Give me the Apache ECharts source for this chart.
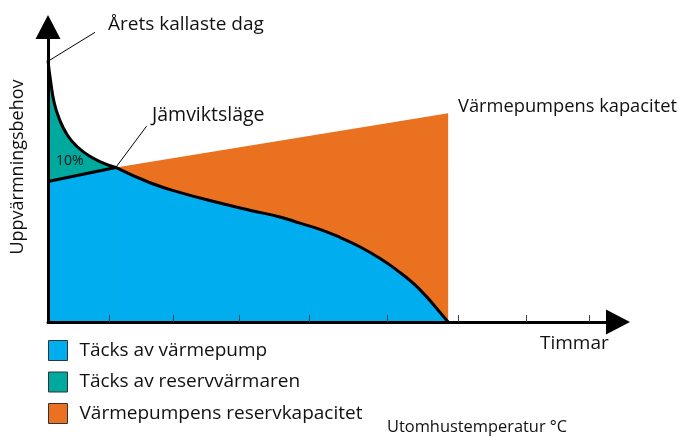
<!DOCTYPE html>
<html><head><meta charset="utf-8">
<script src="https://cdn.jsdelivr.net/npm/echarts@6/dist/echarts.min.js"></script>
<style>html,body{margin:0;padding:0;background:#fff}#c{width:681px;height:437px}</style>
</head><body><div id="c"></div>
<script>
// Heating demand (duration curve), left of and right of the equilibrium point
const demandLeft = [[0,88.6],[0.47,81.5],[1.05,74.7],[1.93,69.1],[3.39,63.4],[5.14,59.4],[7.49,56.0],[9.82,53.8],[11.9,52.4]];
const demandRight = [[11.9,52.4],[17.9,47.2],[23.7,43.6],[29.6,40.6],[35.4,37.9],[40.7,35.6],[44.2,33.5],[47.7,31.4],[51.2,28.7],[54.7,25.5],[58.2,21.6],[61.2,17.6],[64.1,13.1],[66.4,8.6],[68.2,4.6],[70.2,0]];
// Heat pump capacity line
const capacityLeft = [[0,47.6],[11.9,52.4]];
const capacityRight = [[11.9,52.4],[70.2,70.8]];
const tickValues = [10.7,21.9,33.6,45.8,59.6,72.0,83.9,94.9];
const legendNames = ['Täcks av värmepump','Täcks av reservvärmaren','Värmepumpens reservkapacitet'];
const leaderColdest = [[0.35,88.8],[8.25,98.2]];
const leaderEquilibrium = [[11.9,52.4],[17.3,66.4]];

const BLUE='#00AEEF', TEAL='#00A99D', ORANGE='#E9711F';
const FONT='"Open Sans"';
const chart = echarts.init(document.getElementById('c'), null, {renderer:'canvas'});
const axisCommon = {
  type:'value', min:0, max:100, z:10,
  splitLine:{show:false}, axisLabel:{show:false},
  axisLine:{show:true, symbol:['none','triangle'], symbolSize:[25,24], lineStyle:{color:'#000', width:3}}
};
chart.setOption({
  animation:false,
  grid:{left:48, right:63, top:27, bottom:115},
  xAxis:Object.assign({}, axisCommon, {
    axisTick:{show:true, inside:true, length:7, customValues:tickValues, lineStyle:{color:'#444', width:1}}
  }),
  yAxis:Object.assign({}, axisCommon, {axisTick:{show:false}}),
  legend:{
    orient:'vertical', left:48, top:340, padding:0, itemWidth:19, itemHeight:20, itemGap:10.5,
    icon:'rect', selectedMode:false,
    itemStyle:{borderColor:'#333', borderWidth:1},
    textStyle:{fontFamily:FONT, fontSize:19, color:'#111', padding:[0,0,0,7]},
    data:[
      {name:legendNames[0], itemStyle:{color:BLUE}},
      {name:legendNames[1], itemStyle:{color:TEAL}},
      {name:legendNames[2], itemStyle:{color:ORANGE}}
    ]
  },
  series:[
    {type:'line', name:legendNames[2], data:capacityRight, showSymbol:false, clip:false,
     itemStyle:{color:ORANGE}, lineStyle:{width:0}, areaStyle:{color:ORANGE, opacity:1}},
    {type:'line', name:legendNames[1], data:demandLeft, showSymbol:false, clip:false, smooth:0.5,
     itemStyle:{color:TEAL}, lineStyle:{color:'#000', width:3}, areaStyle:{color:TEAL, opacity:1}},
    {type:'line', name:legendNames[0], data:capacityLeft, showSymbol:false, clip:false,
     itemStyle:{color:BLUE}, lineStyle:{color:'#000', width:3}, areaStyle:{color:BLUE, opacity:1},
     markLine:{silent:true, symbol:['none','none'], label:{show:false}, lineStyle:{color:'#000', width:1, type:'solid'},
       data:[
         [{coord:leaderColdest[0]},{coord:leaderColdest[1]}],
         [{coord:leaderEquilibrium[0]},{coord:leaderEquilibrium[1]}]
       ]}},
    {type:'line', name:legendNames[0], data:demandRight, showSymbol:false, clip:false, smooth:0.5,
     itemStyle:{color:BLUE}, lineStyle:{color:'#000', width:3}, areaStyle:{color:BLUE, opacity:1}}
  ],
  graphic:[
    {type:'text', x:108, y:25, style:{text:'Årets kallaste dag', font:'19px '+FONT, fill:'#111', verticalAlign:'middle'}},
    {type:'text', x:152, y:115, style:{text:'Jämviktsläge', font:'19.5px '+FONT, fill:'#111', verticalAlign:'middle'}},
    {type:'text', x:56, y:161, z:20, style:{text:'10%', font:'14px '+FONT, fill:'#111', verticalAlign:'middle'}},
    {type:'text', x:458, y:107, style:{text:'Värmepumpens kapacitet', font:'18.3px '+FONT, fill:'#111', verticalAlign:'middle'}},
    {type:'text', x:540, y:344, style:{text:'Timmar', font:'19px '+FONT, fill:'#111', verticalAlign:'middle'}},
    {type:'text', x:387, y:427, style:{text:'Utomhustemperatur °C', font:'16.4px '+FONT, fill:'#111', verticalAlign:'middle'}},
    {type:'text', x:18, y:167, rotation:Math.PI/2, style:{text:'Uppvärmningsbehov', font:'18px '+FONT, fill:'#111', align:'center', verticalAlign:'middle'}}
  ]
});
</script></body></html>
